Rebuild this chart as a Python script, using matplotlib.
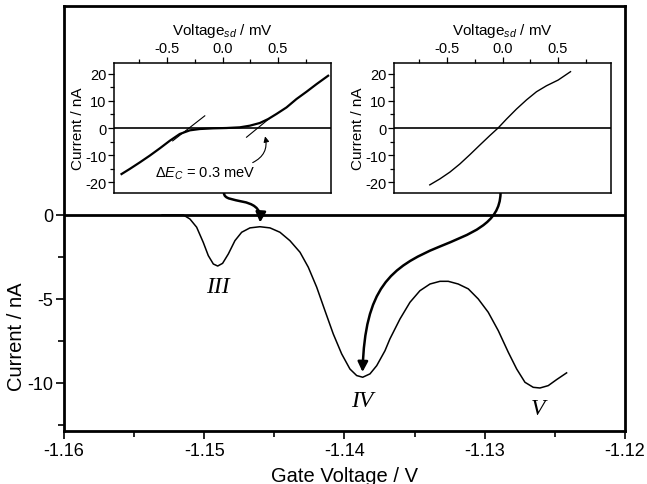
import numpy as np
import matplotlib
matplotlib.use("Agg")
import matplotlib.pyplot as plt
from matplotlib.path import Path
from matplotlib.patches import FancyArrowPatch
from matplotlib.ticker import MultipleLocator, FormatStrFormatter

plt.rcParams['font.family'] = ['Liberation Sans', 'DejaVu Sans']
plt.rcParams['axes.unicode_minus'] = False
plt.rcParams['mathtext.fontset'] = 'custom'
plt.rcParams['mathtext.rm'] = 'Liberation Sans'
plt.rcParams['mathtext.it'] = 'Liberation Sans:italic'

# main curve: gate voltage (V) vs current (nA)
gate_v = [-1.1530, -1.15149, -1.15102, -1.15054, -1.15007, -1.14971, -1.14935, -1.14904,
          -1.14869, -1.14828, -1.14781, -1.14733, -1.14674, -1.14603, -1.14531, -1.14460,
          -1.14389, -1.14317, -1.14258, -1.14198, -1.14139, -1.14080, -1.14020, -1.13961,
          -1.13913, -1.13870, -1.13818, -1.13770, -1.13711, -1.13676, -1.13604, -1.13533,
          -1.13462, -1.13390, -1.13319, -1.13260, -1.13189, -1.13117, -1.13046, -1.12975,
          -1.12903, -1.12832, -1.12772, -1.12713, -1.12654, -1.12606, -1.12547, -1.12487,
          -1.12416]
current = [0.0, 0.0, -0.24, -0.73, -1.63, -2.42, -2.92, -3.04,
           -2.88, -2.32, -1.53, -1.03, -0.77, -0.70, -0.77, -1.03,
           -1.53, -2.22, -3.11, -4.30, -5.70, -7.08, -8.27, -9.17,
           -9.56, -9.66, -9.46, -8.97, -8.08, -7.38, -6.19, -5.20,
           -4.51, -4.11, -3.95, -3.95, -4.11, -4.40, -5.00, -5.79,
           -6.89, -8.17, -9.17, -9.96, -10.26, -10.30, -10.16, -9.80,
           -9.40]

peak_labels = ['III', 'IV', 'V']
peak_label_v = [-1.1490, -1.1387, -1.1262]
peak_label_i = [-4.25, -11.05, -11.55]

# left inset: I-V with Coulomb blockade
vsd_left = [-0.912, -0.837, -0.747, -0.657, -0.566, -0.476, -0.386, -0.295,
            -0.205, -0.085, 0.036, 0.156, 0.247, 0.337, 0.412, 0.488,
            0.578, 0.668, 0.759, 0.849, 0.954]
i_left = [-17.0, -15.1, -12.7, -10.2, -7.5, -4.7, -2.2, -0.86,
          -0.37, -0.12, 0.0, 0.25, 0.86, 1.85, 3.3, 5.2,
          7.6, 10.7, 13.4, 16.2, 19.3]
tangent1_v = [-0.45, -0.16]
tangent1_i = [-4.75, 4.5]
tangent2_v = [0.217, 0.42]
tangent2_i = [-3.4, 3.4]

# right inset: nearly ohmic I-V
vsd_right = [-0.657, -0.566, -0.476, -0.386, -0.295, -0.205, -0.115, -0.04,
             0.036, 0.126, 0.217, 0.307, 0.397, 0.502, 0.614]
i_right = [-21.0, -18.8, -16.3, -13.3, -9.85, -6.3, -2.8, 0.0,
           3.3, 7.0, 10.4, 13.4, 15.6, 17.7, 20.8]

# connector arrows (main-axes data coords, cubic bezier control points)
arrow1_x = [-1.14859, -1.14859, -1.14588, -1.14602]
arrow1_y = [1.30, 0.60, 1.18, -0.45]
arrow2_x = [-1.12887, -1.12891, -1.13105, -1.13326, -1.13676, -1.13854, -1.13871]
arrow2_y = [1.30, -0.54, -1.13, -1.90, -3.10, -4.40, -9.35]

fig = plt.figure(figsize=(6.47, 4.85), dpi=100)
ax = fig.add_axes([0.0989, 0.1093, 0.867, 0.8763])

ax.axhline(0, color='black', lw=2.0, zorder=1)
ax.plot(gate_v, current, color='black', lw=1.1, zorder=2)
for lab, xv, yv in zip(peak_labels, peak_label_v, peak_label_i):
    ax.text(xv, yv, lab, family='Liberation Serif', style='italic', fontsize=17,
            ha='center', va='center')

ax.set_xlim(-1.16, -1.12)
ax.set_ylim(-12.86, 12.44)
ax.set_xticks([-1.16, -1.15, -1.14, -1.13, -1.12])
ax.xaxis.set_minor_locator(MultipleLocator(0.005))
ax.set_yticks([0, -5, -10])
ax.set_yticks([-2.5, -7.5, -12.5], minor=True)
ax.xaxis.set_major_formatter(FormatStrFormatter('%.2f'))
ax.tick_params(which='both', direction='out', width=1.2, labelsize=13, pad=2)
ax.tick_params(which='major', length=6)
ax.tick_params(which='minor', length=4)
for sp in ax.spines.values():
    sp.set_linewidth(2.0)
ax.set_xlabel('Gate Voltage / V', fontsize=14.5, labelpad=5)
ax.set_ylabel('Current / nA', fontsize=14.5)
ax.yaxis.set_label_coords(-0.068, 0.224)


def bezier_path(xs, ys):
    verts = list(zip(xs, ys))
    codes = [Path.MOVETO] + [Path.CURVE4] * (len(verts) - 1)
    return Path(verts, codes)


for xs, ys in [(arrow1_x, arrow1_y), (arrow2_x, arrow2_y)]:
    arr = FancyArrowPatch(path=bezier_path(xs, ys), arrowstyle='-|>', mutation_scale=15,
                          lw=1.8, color='black', transform=ax.transData, zorder=5)
    ax.add_patch(arr)


def setup_inset(rect):
    ins = fig.add_axes(rect)
    ins.set_facecolor('white')
    ins.axhline(0, color='black', lw=1.2, zorder=1)
    ins.set_xlim(-0.98, 0.98)
    ins.set_ylim(-24, 24)
    ins.xaxis.tick_top()
    ins.xaxis.set_label_position('top')
    ins.set_xticks([-0.5, 0.0, 0.5])
    ins.xaxis.set_minor_locator(MultipleLocator(0.25))
    ins.set_yticks([-20, -10, 0, 10, 20])
    ins.yaxis.set_minor_locator(MultipleLocator(5))
    ins.xaxis.set_major_formatter(FormatStrFormatter('%.1f'))
    ins.tick_params(which='both', direction='out', width=0.9, labelsize=10.5, pad=1.5)
    ins.tick_params(which='major', length=4)
    ins.tick_params(which='minor', length=3)
    for sp in ins.spines.values():
        sp.set_linewidth(1.1)
    ins.set_xlabel('Voltage$_{sd}$ / mV', fontsize=11, labelpad=5)
    ins.set_ylabel('Current / nA', fontsize=11, labelpad=0)
    return ins


ins1 = setup_inset([0.1762, 0.60, 0.3354, 0.268])
ins1.plot(vsd_left, i_left, color='black', lw=1.6, zorder=3)
ins1.plot(tangent1_v, tangent1_i, color='black', lw=0.8, zorder=3)
ins1.plot(tangent2_v, tangent2_i, color='black', lw=0.8, zorder=3)
ins1.text(-0.61, -16.5, 'Δ$E_C$ = 0.3 meV', fontsize=10.5, ha='left', va='center')
ins1.annotate('', xy=(0.378, -2.1), xytext=(0.25, -13.2),
              arrowprops=dict(arrowstyle='-|>', connectionstyle='arc3,rad=0.45',
                              lw=0.8, color='black', mutation_scale=8))

ins2 = setup_inset([0.609, 0.60, 0.3354, 0.268])
ins2.plot(vsd_right, i_right, color='black', lw=1.0, zorder=3)

fig.savefig('out.png', dpi=100)
